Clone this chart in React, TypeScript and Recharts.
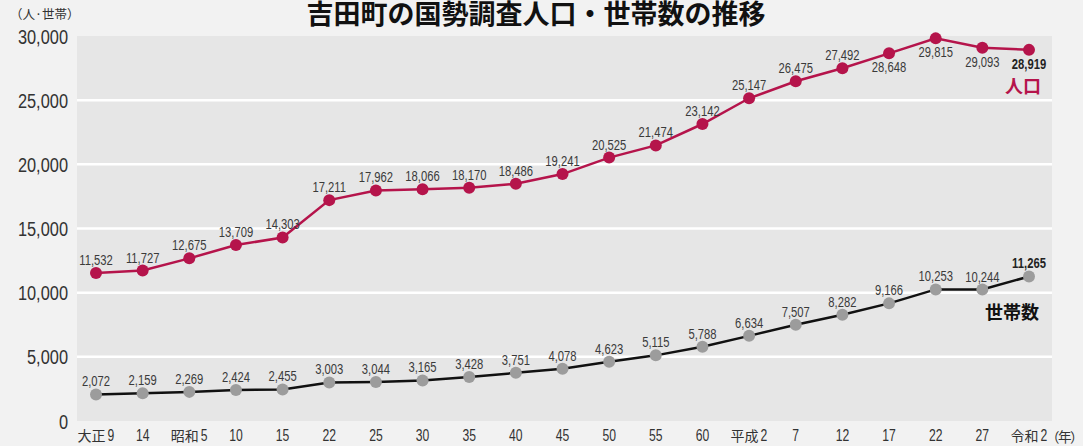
import { CartesianGrid, LabelList, Line, LineChart, ReferenceLine, XAxis, YAxis } from "recharts";

const years = ["大正9", "14", "昭和5", "10", "15", "22", "25", "30", "35", "40", "45", "50", "55", "60", "平成2", "7", "12", "17", "22", "27", "令和2"];
const population = [11532, 11727, 12675, 13709, 14303, 17211, 17962, 18066, 18170, 18486, 19241, 20525, 21474, 23142, 25147, 26475, 27492, 28648, 29815, 29093, 28919];
const households = [2072, 2159, 2269, 2424, 2455, 3003, 3044, 3165, 3428, 3751, 4078, 4623, 5115, 5788, 6634, 7507, 8282, 9166, 10253, 10244, 11265];
const yTicks = [0, 5000, 10000, 15000, 20000, 25000, 30000];
const gridLines = [5000, 10000, 15000, 20000, 25000];

const SANS = '"Liberation Sans", Arial, sans-serif';
const CJK = '"Noto Sans CJK JP", sans-serif';
const POP_COLOR = "#b5144b";

const fmt = (v: number) => v.toLocaleString("en-US");

// helvetica-ish text squeezed horizontally, like the condensed face of the original
function Narrow({ x, y, scale, anchor, children, ...rest }: any) {
  return (
    <text transform={`translate(${x},${y}) scale(${scale},1)`} textAnchor={anchor} fontFamily={SANS} {...rest}>
      {children}
    </text>
  );
}

function PopLabel(props: any) {
  const { x, y, value, index } = props;
  const below = index >= 17;
  const last = index === population.length - 1;
  return (
    <Narrow x={x} y={below ? y + 19 : y - 8} scale={0.75} anchor="middle" fontSize={15}
      fontWeight={last ? "bold" : "normal"} fill={last ? "#222" : "#3a3a3a"}>
      {fmt(value)}
    </Narrow>
  );
}

function HhLabel(props: any) {
  const { x, y, value, index } = props;
  const last = index === households.length - 1;
  return (
    <Narrow x={x} y={y - 8} scale={0.75} anchor="middle" fontSize={15}
      fontWeight={last ? "bold" : "normal"} fill={last ? "#222" : "#3a3a3a"}>
      {fmt(value)}
    </Narrow>
  );
}

function YTick(props: any) {
  const { x, y, payload } = props;
  return (
    <Narrow x={x} y={y} dy="0.36em" scale={0.78} anchor="end" fontSize={21} fill="#333">
      {fmt(payload.value)}
    </Narrow>
  );
}

function XTick(props: any) {
  const { x, y, payload } = props;
  const label = years[payload.value];
  const m = label.match(/^(\D+)(\d+)$/);
  if (!m) {
    return (
      <Narrow x={x} y={y} dy="0.71em" scale={0.76} anchor="middle" fontSize={16} fill="#333">
        {label}
      </Narrow>
    );
  }
  // era name + year number, e.g. 昭和 5
  const start = x - 18.5;
  return (
    <g>
      <text x={start} y={y} dy="0.76em" fontFamily={CJK} fontSize={14} fill="#333">{m[1]}</text>
      <Narrow x={start + 30} y={y} dy="0.71em" scale={0.76} anchor="start" fontSize={16} fill="#333">{m[2]}</Narrow>
    </g>
  );
}

export default function App() {
  const data = years.map((y, i) => ({ idx: i, year: y, pop: population[i], hh: households[i] }));

  return (
    <div style={{ position: "absolute", left: 0, top: 0, width: 1083, height: 446, background: "#f2f2f2", overflow: "hidden" }}>
      <LineChart width={1083} height={446} data={data} margin={{ top: 36, right: 31, bottom: 0, left: 0 }}>
        <CartesianGrid horizontal={false} vertical={false} fill="#e6e6e6" />
        {gridLines.map((v) => (
          <ReferenceLine key={v} y={v} stroke="#ffffff" strokeWidth={2.5} />
        ))}
        <XAxis
          dataKey="idx"
          type="category"
          interval={0}
          height={25}
          padding={{ left: 19, right: 23 }}
          axisLine={false}
          tickLine={false}
          tickSize={0}
          tickMargin={9}
          tick={<XTick />}
        />
        <YAxis
          domain={[0, 30000]}
          ticks={yTicks}
          width={77}
          axisLine={false}
          tickLine={false}
          tickSize={0}
          tickMargin={9}
          tick={<YTick />}
        />
        <Line
          dataKey="hh"
          stroke="#111"
          strokeWidth={2.5}
          dot={{ r: 6, fill: "#9c9c9c", stroke: "none" }}
          isAnimationActive={false}
        >
          <LabelList dataKey="hh" content={HhLabel} />
        </Line>
        <Line
          dataKey="pop"
          stroke={POP_COLOR}
          strokeWidth={2.5}
          dot={{ r: 6, fill: POP_COLOR, stroke: "none" }}
          isAnimationActive={false}
        >
          <LabelList dataKey="pop" content={PopLabel} />
        </Line>
      </LineChart>

      <div style={{ position: "absolute", left: 0, top: -2, width: 1072, textAlign: "center", fontFamily: CJK, fontWeight: "bold", fontSize: 27, lineHeight: "30px", color: "#111" }}>
        吉田町の国勢調査人口・世帯数の推移
      </div>
      <div style={{ position: "absolute", left: 10, top: 6, fontFamily: CJK, fontSize: 12.5, lineHeight: "16px", color: "#333" }}>
        （人·世帯）
      </div>
      <div style={{ position: "absolute", left: 1046, top: 428, fontFamily: CJK, fontSize: 13.5, lineHeight: "17px", letterSpacing: -1.5, color: "#333" }}>
        （年）
      </div>
      <div style={{ position: "absolute", left: 1005, top: 74, fontFamily: CJK, fontWeight: "bold", fontSize: 18, lineHeight: "22px", color: POP_COLOR }}>
        人口
      </div>
      <div style={{ position: "absolute", left: 985, top: 300, fontFamily: CJK, fontWeight: "bold", fontSize: 18, lineHeight: "22px", color: "#111" }}>
        世帯数
      </div>
    </div>
  );
}
